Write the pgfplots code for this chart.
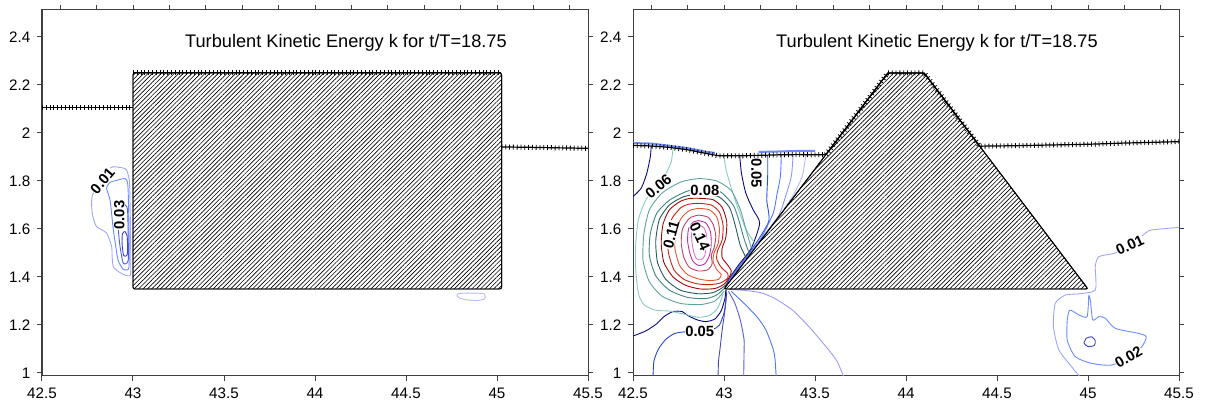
\documentclass[border=0pt]{standalone}
\usepackage{fontspec}
\setmainfont{Liberation Sans}
\usepackage{pgfplots}
\pgfplotsset{compat=1.18}
\usetikzlibrary{patterns.meta}

% contour colours
\definecolor{lav}{HTML}{A0A4FF}
\definecolor{lav2}{HTML}{B4BAFF}
\definecolor{blu2}{HTML}{6A8CFF}
\definecolor{blu3}{HTML}{5060E0}
\definecolor{blu4}{HTML}{4040C8}
\definecolor{navy}{HTML}{0A0A80}
\definecolor{cblue}{HTML}{2848C8}
\definecolor{fan1}{HTML}{4848B8}
\definecolor{fan2}{HTML}{5A5AD8}
\definecolor{fan3}{HTML}{4A7CF0}
\definecolor{fan4}{HTML}{9A9AF8}
\definecolor{r2}{HTML}{2850E0}
\definecolor{r3}{HTML}{5878FF}
\definecolor{r4}{HTML}{8898FF}
\definecolor{tl1}{HTML}{88CCC4}
\definecolor{tl2}{HTML}{5FA3A0}
\definecolor{tl3}{HTML}{3F8585}
\definecolor{tl4}{HTML}{285858}
\definecolor{dr}{HTML}{A00808}
\definecolor{rd}{HTML}{CC2010}
\definecolor{orr}{HTML}{E05830}
\definecolor{ro}{HTML}{C04068}
\definecolor{mg}{HTML}{C030A0}
\definecolor{pk}{HTML}{E070D0}
\definecolor{axc}{HTML}{404040}

\tikzset{
  cl/.style={line width=0.45pt, smooth, tension=0.4},
  fsurf/.style={black, line width=0.6pt},
  fsmark/.style={black, line width=2.5pt, dash pattern=on 0.4pt off 1.5pt},
  struct/.style={draw=black, line width=0.45pt, rounded corners=1pt, preaction={fill=white},
    pattern={Lines[angle=45,distance=1.55pt,line width=0.32pt]}, pattern color=black},
  clab/.style={font=\bfseries\fontsize{7.4}{8}\selectfont, fill=white, inner sep=0.1pt},
  ttl/.style={font=\fontsize{9.1}{11}\selectfont}
}

\pgfplotsset{
  base/.style={scale only axis, width=273pt, height=183pt,
    xmin=42.5, xmax=45.5, ymin=0.9875, ymax=2.5125,
    axis line style={draw=axc, line width=0.5pt},
    tick style={draw=axc, line width=0.5pt},
    tick align=outside, major tick length=2.3pt},
  panel/.style={base, xtick pos=lower, ytick pos=both, yticklabel pos=left,
    xtick={42.5,43,43.5,44,44.5,45,45.5},
    ytick={1,1.2,1.4,1.6,1.8,2,2.2,2.4},
    tick label style={font=\fontsize{7.6}{9}\selectfont},
    /pgf/number format/assume math mode=true},
  topticks/.style={base, xtick pos=upper, ytick=\empty, xticklabels={},
    xtick={42.6,42.8,43,43.2,43.4,43.6,43.8,44,44.2,44.4,44.6,44.8,45,45.2,45.4}}
}

\begin{document}
\begin{tikzpicture}
\useasboundingbox (0,0) rectangle (604pt,205pt);

% ---------------- left panel ----------------
\begin{axis}[topticks, at={(21pt,17pt)}, anchor=south west]
\end{axis}
\begin{axis}[panel, at={(21pt,17pt)}, anchor=south west]
\addplot[lav,cl] coordinates {(42.892,1.86)(42.94,1.855)(42.965,1.846)(42.98,1.80)(42.984,1.70)(42.987,1.55)(42.987,1.417)(42.975,1.405)(42.956,1.408)(42.925,1.42)(42.892,1.443)(42.885,1.49)(42.883,1.526)(42.855,1.583)(42.80,1.61)(42.78,1.65)(42.773,1.693)(42.775,1.735)(42.80,1.775)(42.833,1.81)(42.86,1.845)(42.892,1.86)};
\addplot[blu2,cl] coordinates {(42.90,1.80)(42.956,1.81)(42.972,1.78)(42.978,1.60)(42.978,1.443)(42.962,1.43)(42.945,1.433)(42.918,1.47)(42.90,1.554)(42.89,1.61)(42.874,1.72)(42.855,1.77)(42.875,1.795)(42.90,1.80)};
\addplot[blu3,cl] coordinates {(42.956,1.70)(42.97,1.68)(42.974,1.55)(42.974,1.47)(42.96,1.455)(42.945,1.46)(42.929,1.526)(42.92,1.60)(42.93,1.68)(42.956,1.70)};
\addplot[blu4,cl] coordinates {(42.955,1.59)(42.968,1.57)(42.97,1.50)(42.962,1.488)(42.948,1.49)(42.94,1.54)(42.942,1.58)(42.955,1.59)};
\addplot[lav2,cl] coordinates {(44.78,1.325)(44.79,1.331)(44.85,1.333)(44.925,1.331)(44.935,1.32)(44.93,1.308)(44.89,1.302)(44.83,1.305)(44.79,1.314)(44.78,1.325)};
% structure
\addplot[struct] coordinates {(43,1.35)(43,2.25)(45.025,2.25)(45.025,1.35)} -- cycle;
% free surface
\addplot[fsurf] coordinates {(42.5,2.107)(43.0,2.107)};
\addplot[fsmark] coordinates {(42.5,2.107)(43.0,2.107)};
\addplot[fsurf] coordinates {(43.0,2.252)(45.02,2.252)};
\addplot[fsmark] coordinates {(43.0,2.252)(45.02,2.252)};
\addplot[fsurf] coordinates {(45.025,1.942)(45.2,1.94)(45.5,1.936)};
\addplot[fsmark] coordinates {(45.025,1.942)(45.2,1.94)(45.5,1.936)};
% labels
\node[clab, rotate=50] at (axis cs:42.833,1.80) {0.01};
\node[clab, rotate=90] at (axis cs:42.925,1.658) {0.03};
\node[ttl] at (axis cs:44.17,2.375) {Turbulent Kinetic Energy k for t/T=18.75};
\end{axis}

% ---------------- right panel ----------------
\begin{axis}[topticks, at={(316.5pt,17pt)}, anchor=south west]
\end{axis}
\begin{axis}[panel, at={(316.5pt,17pt)}, anchor=south west]
% blue band above free surface
\addplot[blu2, line width=1pt] coordinates {(42.5,1.958)(42.6,1.956)(42.7,1.947)(42.8,1.937)(42.9,1.922)(42.95,1.917)};
\addplot[blu2, line width=1pt] coordinates {(43.19,1.921)(43.3,1.923)(43.4,1.925)(43.5,1.926)};
% fan below the tip
\addplot[cblue,cl] coordinates {(42.61,0.98)(42.615,1.05)(42.64,1.10)(42.68,1.14)(42.73,1.165)(42.79,1.172)(42.87,1.176)(42.94,1.182)(42.975,1.20)(43.0,1.25)(43.01,1.30)(43.012,1.345)};
\addplot[fan1,cl] coordinates {(42.967,0.98)(42.97,1.05)(42.978,1.10)(42.99,1.18)(43.005,1.26)(43.015,1.335)};
\addplot[fan2,cl] coordinates {(43.108,0.98)(43.11,1.08)(43.11,1.14)(43.09,1.22)(43.06,1.29)(43.025,1.34)};
\addplot[fan3,cl] coordinates {(43.287,0.98)(43.28,1.06)(43.27,1.10)(43.23,1.18)(43.18,1.235)(43.11,1.29)(43.04,1.34)};
\addplot[fan4,cl] coordinates {(43.66,0.98)(43.62,1.05)(43.56,1.11)(43.47,1.19)(43.38,1.26)(43.28,1.31)(43.2,1.335)(43.1,1.345)(43.03,1.348)};
% navy lines
\addplot[navy,cl] coordinates {(42.60,1.945)(42.595,1.90)(42.575,1.83)(42.545,1.77)(42.5,1.735)};
\addplot[navy,cl] coordinates {(42.5,1.154)(42.57,1.175)(42.63,1.205)(42.67,1.235)(42.72,1.256)(42.77,1.256)(42.80,1.24)(42.85,1.222)(42.90,1.214)(42.95,1.225)(42.985,1.26)(43.005,1.31)(43.01,1.345)};
% fan between lobe and slope
\addplot[navy,cl] coordinates {(43.086,1.908)(43.096,1.832)(43.12,1.749)(43.16,1.68)(43.196,1.624)(43.15,1.52)(43.08,1.45)(43.03,1.395)(43.01,1.36)};
\addplot[r2,cl] coordinates {(43.24,1.908)(43.24,1.82)(43.235,1.72)(43.245,1.63)(43.15,1.512)(43.07,1.432)(43.02,1.38)(43.008,1.355)};
\addplot[r3,cl] coordinates {(43.315,1.91)(43.31,1.82)(43.29,1.74)(43.27,1.665)(43.2,1.558)(43.1,1.458)(43.03,1.388)};
\addplot[r4,cl] coordinates {(43.38,1.912)(43.37,1.82)(43.34,1.74)(43.30,1.655)(43.2,1.555)(43.1,1.455)(43.03,1.385)};
\addplot[lav2,cl] coordinates {(43.45,1.913)(43.43,1.82)(43.38,1.74)(43.33,1.685)};
% lobe
\addplot[tl1,cl] coordinates {(42.72,1.935)(42.71,1.88)(42.68,1.83)(42.63,1.78)(42.57,1.72)(42.53,1.64)(42.515,1.54)(42.515,1.43)(42.53,1.33)(42.56,1.285)(42.62,1.262)(42.70,1.258)(42.78,1.245)(42.86,1.232)(42.92,1.24)(42.965,1.27)(42.995,1.33)};
\addplot[tl1,cl] coordinates {(43.0,1.908)(43.01,1.85)(43.04,1.77)(43.08,1.68)(43.12,1.60)(43.165,1.545)};
\addplot[tl2,cl] coordinates {(43.15,1.52)(43.12,1.60)(43.09,1.68)(43.04,1.76)(42.96,1.80)(42.86,1.81)(42.76,1.795)(42.66,1.75)(42.59,1.68)(42.56,1.58)(42.555,1.47)(42.59,1.38)(42.66,1.32)(42.76,1.29)(42.87,1.285)(42.95,1.30)(43.0,1.34)};
\addplot[tl3,cl] coordinates {(43.14,1.495)(43.11,1.56)(43.08,1.64)(43.05,1.70)(42.98,1.755)(42.89,1.765)(42.80,1.758)(42.70,1.72)(42.63,1.665)(42.595,1.58)(42.59,1.49)(42.625,1.405)(42.70,1.345)(42.80,1.315)(42.90,1.31)(42.96,1.325)(43.005,1.355)};
\addplot[tl4,cl] coordinates {(43.125,1.475)(43.09,1.53)(43.06,1.62)(43.03,1.69)(42.97,1.735)(42.87,1.745)(42.78,1.735)(42.70,1.70)(42.645,1.64)(42.625,1.55)(42.635,1.46)(42.68,1.39)(42.76,1.345)(42.86,1.33)(42.94,1.335)(42.99,1.355)(43.015,1.37)};
\addplot[dr,cl] coordinates {(42.86,1.728)(42.94,1.722)(42.99,1.69)(43.015,1.63)(43.01,1.565)(42.99,1.52)(42.99,1.48)(43.02,1.45)(43.04,1.425)(43.03,1.40)(43.0,1.37)(42.95,1.352)(42.87,1.35)(42.79,1.365)(42.72,1.40)(42.67,1.46)(42.655,1.54)(42.665,1.62)(42.70,1.68)(42.76,1.715)(42.81,1.727)(42.86,1.728)};
\addplot[rd,cl] coordinates {(42.86,1.707)(42.93,1.70)(42.975,1.67)(42.995,1.615)(42.99,1.555)(42.965,1.51)(42.96,1.475)(42.985,1.44)(43.02,1.415)(43.02,1.395)(42.98,1.375)(42.92,1.368)(42.85,1.372)(42.78,1.39)(42.725,1.43)(42.695,1.50)(42.69,1.58)(42.715,1.645)(42.765,1.69)(42.81,1.704)(42.86,1.707)};
\addplot[orr,cl] coordinates {(42.86,1.686)(42.92,1.68)(42.96,1.65)(42.975,1.60)(42.968,1.54)(42.945,1.50)(42.94,1.465)(42.96,1.43)(42.985,1.41)(42.97,1.39)(42.92,1.385)(42.86,1.392)(42.80,1.41)(42.755,1.45)(42.73,1.52)(42.735,1.59)(42.765,1.645)(42.81,1.677)(42.86,1.686)};
\addplot[ro,cl] coordinates {(42.86,1.658)(42.91,1.65)(42.94,1.62)(42.955,1.57)(42.945,1.52)(42.93,1.49)(42.935,1.455)(42.91,1.43)(42.86,1.425)(42.81,1.44)(42.78,1.48)(42.765,1.54)(42.772,1.60)(42.81,1.645)(42.86,1.658)};
\addplot[mg,cl] coordinates {(42.86,1.635)(42.90,1.625)(42.925,1.59)(42.93,1.54)(42.92,1.49)(42.895,1.455)(42.86,1.448)(42.83,1.465)(42.812,1.50)(42.80,1.55)(42.805,1.60)(42.83,1.628)(42.86,1.635)};
\addplot[pk,cl] coordinates {(42.86,1.617)(42.89,1.605)(42.905,1.57)(42.90,1.53)(42.895,1.49)(42.875,1.472)(42.85,1.475)(42.835,1.50)(42.825,1.54)(42.822,1.58)(42.835,1.608)(42.86,1.617)};
% bottom right
\addplot[lav,cl] coordinates {(45.5,1.607)(45.35,1.596)(45.32,1.585)(45.23,1.535)(45.15,1.50)(45.06,1.485)(45.04,1.443)(45.04,1.346)(44.95,1.33)(44.876,1.325)(44.82,1.29)(44.81,1.193)(44.84,1.096)(44.91,1.026)(44.96,0.98)};
\addplot[blu2,cl] coordinates {(45.004,1.325)(44.995,1.235)(44.95,1.242)(44.90,1.262)(44.886,1.22)(44.886,1.137)(44.93,1.068)(45.02,1.04)(45.13,1.033)(45.223,1.068)(45.296,1.11)(45.32,1.151)(45.278,1.165)(45.15,1.186)(45.095,1.228)(45.06,1.235)(45.026,1.221)(45.013,1.304)(45.004,1.325)};
\addplot[blu4,cl] coordinates {(44.99,1.145)(45.02,1.151)(45.04,1.135)(45.035,1.115)(45.0,1.11)(44.978,1.125)(44.99,1.145)};
% structure
\addplot[struct] coordinates {(43,1.35)(43.9,2.25)(44.1,2.25)(45,1.35)} -- cycle;
% free surface
\addplot[fsurf] coordinates {(42.5,1.948)(42.6,1.946)(42.7,1.94)(42.8,1.93)(42.9,1.915)(42.97,1.905)(43.1,1.905)(43.2,1.907)(43.3,1.909)(43.4,1.91)(43.5,1.909)(43.56,1.91)(43.9,2.25)(44.1,2.25)(44.405,1.945)(44.6,1.947)(44.8,1.95)(45.0,1.953)(45.2,1.958)(45.4,1.962)(45.5,1.964)};
\addplot[fsmark] coordinates {(42.5,1.948)(42.6,1.946)(42.7,1.94)(42.8,1.93)(42.9,1.915)(42.97,1.905)(43.1,1.905)(43.2,1.907)(43.3,1.909)(43.4,1.91)(43.5,1.909)(43.56,1.91)(43.9,2.25)(44.1,2.25)(44.405,1.945)(44.6,1.947)(44.8,1.95)(45.0,1.953)(45.2,1.958)(45.4,1.962)(45.5,1.964)};
% labels
\node[clab, rotate=40] at (axis cs:42.64,1.776) {0.06};
\node[clab] at (axis cs:42.895,1.762) {0.08};
\node[clab, rotate=75] at (axis cs:42.71,1.575) {0.11};
\node[clab, rotate=-65] at (axis cs:42.867,1.568) {0.14};
\node[clab, rotate=-90] at (axis cs:43.178,1.832) {0.05};
\node[clab] at (axis cs:42.867,1.174) {0.05};
\node[clab, rotate=25] at (axis cs:45.23,1.533) {0.01};
\node[clab, rotate=30] at (axis cs:45.223,1.068) {0.02};
\node[ttl] at (axis cs:44.17,2.375) {Turbulent Kinetic Energy k for t/T=18.75};
\end{axis}
\end{tikzpicture}
\end{document}
